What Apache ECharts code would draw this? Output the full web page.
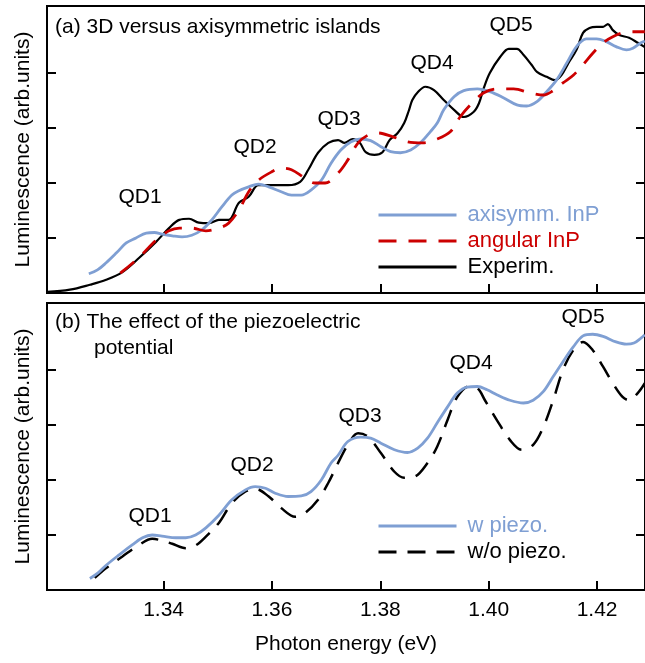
<!DOCTYPE html>
<html>
<head>
<meta charset="utf-8">
<script src="https://cdn.jsdelivr.net/npm/echarts@6/dist/echarts.min.js"></script>
<style>
  html, body { margin: 0; padding: 0; background: #fff; }
  #chart { width: 645px; height: 663px; }
</style>
</head>
<body>
<div id="chart"></div>
<script>
// Photon energy ticks (eV) shared by both panels
const energyTicks = [1.34, 1.36, 1.38, 1.40, 1.42];
const intensityTicks = [1, 2, 3, 4];

// Panel (a): measured spectrum, [energy eV, luminescence]
const experim = [
  [1.3185,0.02],[1.3227,0.06],[1.3264,0.15],[1.3294,0.24],[1.3324,0.38],[1.3355,0.64],
  [1.3386,0.93],[1.3410,1.18],[1.3429,1.33],[1.3447,1.35],[1.3465,1.28],[1.3484,1.27],
  [1.3502,1.33],[1.3520,1.33],[1.3539,1.64],[1.3557,1.75],[1.3575,1.96],[1.3599,1.96],
  [1.3630,1.96],[1.3652,2.02],[1.3667,2.24],[1.3685,2.55],[1.3704,2.73],[1.3722,2.78],
  [1.3734,2.73],[1.3749,2.80],[1.3762,2.73],[1.3773,2.56],[1.3789,2.51],[1.3804,2.56],
  [1.3817,2.78],[1.3832,2.91],[1.3844,3.09],[1.3853,3.33],[1.3859,3.51],[1.3869,3.65],
  [1.3883,3.75],[1.3899,3.69],[1.3917,3.51],[1.3936,3.33],[1.3954,3.20],[1.3972,3.29],
  [1.3982,3.45],[1.3991,3.73],[1.4002,4.00],[1.4021,4.29],[1.4037,4.44],[1.4052,4.44],
  [1.4064,4.33],[1.4079,4.15],[1.4089,4.02],[1.4107,3.93],[1.4122,3.87],[1.4134,3.96],
  [1.4147,4.18],[1.4162,4.42],[1.4174,4.73],[1.4186,4.82],[1.4199,4.84],[1.4211,4.84],
  [1.4220,4.89],[1.4229,4.78],[1.4241,4.69],[1.4259,4.64],[1.4275,4.55],[1.4288,4.47]
];

// Panel (a): axisymmetric InP island model
const axisymm = [
  [1.3262,0.35],[1.3278,0.42],[1.3294,0.55],[1.3313,0.73],[1.3331,0.91],[1.3349,1.00],
  [1.3368,1.09],[1.3383,1.10],[1.3397,1.07],[1.3416,1.04],[1.3434,1.02],[1.3452,1.05],
  [1.3471,1.15],[1.3489,1.33],[1.3507,1.56],[1.3526,1.78],[1.3539,1.86],[1.3557,1.93],
  [1.3575,1.98],[1.3594,1.93],[1.3617,1.84],[1.3636,1.78],[1.3654,1.78],[1.3672,1.87],
  [1.3691,2.05],[1.3709,2.36],[1.3727,2.60],[1.3746,2.75],[1.3764,2.80],[1.3782,2.77],
  [1.3801,2.66],[1.3819,2.57],[1.3837,2.55],[1.3856,2.60],[1.3874,2.73],[1.3892,2.93],
  [1.3905,3.09],[1.3917,3.33],[1.3936,3.57],[1.3954,3.68],[1.3979,3.71],[1.4002,3.66],
  [1.4027,3.55],[1.4052,3.42],[1.4070,3.40],[1.4089,3.48],[1.4107,3.66],[1.4125,3.87],
  [1.4144,4.18],[1.4162,4.48],[1.4180,4.62],[1.4199,4.62],[1.4217,4.57],[1.4235,4.48],
  [1.4254,4.42],[1.4266,4.45],[1.4281,4.55],[1.4288,4.58]
];

// Panel (a): angular (3D) InP island model
const angular = [
  [1.3320,0.36],[1.3355,0.65],[1.3386,0.96],[1.3410,1.13],[1.3429,1.18],[1.3452,1.18],
  [1.3478,1.13],[1.3502,1.18],[1.3520,1.27],[1.3539,1.51],[1.3557,1.84],[1.3575,2.05],
  [1.3599,2.20],[1.3617,2.27],[1.3636,2.24],[1.3661,2.09],[1.3679,2.00],[1.3698,2.00],
  [1.3722,2.18],[1.3740,2.42],[1.3759,2.73],[1.3777,2.87],[1.3795,2.91],[1.3823,2.84],
  [1.3850,2.75],[1.3878,2.73],[1.3905,2.80],[1.3929,2.93],[1.3947,3.20],[1.3966,3.42],
  [1.3991,3.64],[1.4015,3.71],[1.4046,3.71],[1.4076,3.64],[1.4101,3.60],[1.4119,3.68],
  [1.4137,3.82],[1.4156,3.96],[1.4174,4.15],[1.4192,4.36],[1.4211,4.55],[1.4229,4.66],
  [1.4247,4.73],[1.4266,4.75],[1.4288,4.75]
];

// Panel (b): with piezoelectric potential
const withPiezo = [
  [1.3264,0.21],[1.3279,0.31],[1.3294,0.45],[1.3318,0.64],[1.3342,0.82],[1.3361,0.95],
  [1.3379,1.00],[1.3397,0.98],[1.3423,0.95],[1.3441,0.95],[1.3459,1.00],[1.3478,1.13],
  [1.3502,1.36],[1.3526,1.64],[1.3551,1.82],[1.3569,1.88],[1.3588,1.85],[1.3606,1.76],
  [1.3630,1.70],[1.3654,1.71],[1.3672,1.79],[1.3691,2.00],[1.3709,2.31],[1.3722,2.45],
  [1.3740,2.70],[1.3764,2.78],[1.3782,2.76],[1.3801,2.67],[1.3826,2.55],[1.3850,2.50],
  [1.3869,2.58],[1.3887,2.76],[1.3905,3.04],[1.3924,3.33],[1.3942,3.58],[1.3960,3.69],
  [1.3979,3.70],[1.3997,3.64],[1.4015,3.55],[1.4039,3.45],[1.4064,3.40],[1.4082,3.45],
  [1.4101,3.61],[1.4119,3.88],[1.4137,4.15],[1.4156,4.42],[1.4174,4.62],[1.4192,4.65],
  [1.4211,4.61],[1.4235,4.51],[1.4254,4.47],[1.4268,4.49],[1.4281,4.58],[1.4288,4.64]
];

// Panel (b): without piezoelectric potential
const withoutPiezo = [
  [1.3273,0.22],[1.3294,0.40],[1.3324,0.61],[1.3355,0.82],[1.3379,0.93],[1.3397,0.90],
  [1.3416,0.84],[1.3441,0.76],[1.3459,0.81],[1.3478,0.97],[1.3502,1.22],[1.3526,1.58],
  [1.3551,1.79],[1.3569,1.84],[1.3594,1.70],[1.3617,1.49],[1.3643,1.33],[1.3661,1.40],
  [1.3685,1.64],[1.3704,1.95],[1.3722,2.31],[1.3740,2.64],[1.3759,2.85],[1.3777,2.79],
  [1.3801,2.49],[1.3826,2.15],[1.3844,2.04],[1.3863,2.06],[1.3887,2.31],[1.3905,2.61],
  [1.3924,3.09],[1.3942,3.51],[1.3963,3.70],[1.3979,3.67],[1.3993,3.45],[1.4015,3.09],
  [1.4039,2.73],[1.4061,2.55],[1.4082,2.64],[1.4101,2.97],[1.4119,3.45],[1.4137,4.00],
  [1.4156,4.36],[1.4174,4.51],[1.4192,4.36],[1.4211,4.06],[1.4229,3.76],[1.4247,3.51],
  [1.4259,3.45],[1.4275,3.58],[1.4288,3.76]
];

// Peak annotations per panel
const peakNames = ['QD1', 'QD2', 'QD3', 'QD4', 'QD5'];

const FONT = '"Liberation Sans", Arial, Helvetica, sans-serif';
const BLUE = '#7f9fd3';
const RED = '#cc0000';
const BLACK = '#000000';

const xMin = 1.31848, xMax = 1.42884;
const yMax = 5.218;

const chart = echarts.init(document.getElementById('chart'), null, { renderer: 'canvas' });

function xAxisFor(grid, withLabels) {
  return {
    gridIndex: grid, type: 'value', min: xMin, max: xMax,
    axisLine: { show: false },
    splitLine: { show: false },
    axisTick: { inside: true, length: 9, lineStyle: { color: BLACK, width: 2 }, customValues: energyTicks },
    axisLabel: withLabels ? {
      customValues: energyTicks, formatter: v => v.toFixed(2),
      fontSize: 21, fontFamily: FONT, color: BLACK, margin: 10
    } : { show: false },
    name: withLabels ? 'Photon energy (eV)' : '',
    nameLocation: 'middle', nameGap: 44,
    nameTextStyle: { fontSize: 21, fontFamily: FONT, color: BLACK }
  };
}

function yAxisFor(grid, side) {
  return {
    gridIndex: grid, type: 'value', min: 0, max: yMax, position: side,
    axisLine: { show: false },
    splitLine: { show: false },
    axisTick: { inside: true, length: 9, lineStyle: { color: BLACK, width: 2 }, customValues: intensityTicks },
    axisLabel: { show: false },
    name: side === 'left' ? 'Luminescence (arb.units)' : '',
    nameLocation: 'middle', nameRotate: 90, nameGap: 13,
    nameTextStyle: { fontSize: 21, fontFamily: FONT, color: BLACK }
  };
}

function textEl(text, x, y, align, color) {
  return {
    type: 'text', z: 10,
    style: { text: text, x: x, y: y, font: '21px ' + FONT, fill: color || BLACK,
             textAlign: align || 'center', textVerticalAlign: 'middle' }
  };
}

const labelPosA = [[140,197],[255,147],[339,119],[432,63],[511,25]];
const labelPosB = [[150,516],[252,465],[360,416],[471,363],[583,317]];

const graphics = [
  textEl('(a) 3D versus axisymmetric islands', 55, 27, 'left'),
  textEl('(b) The effect of the piezoelectric', 55, 322, 'left'),
  textEl('potential', 94, 348, 'left')
];
peakNames.forEach((n, i) => {
  graphics.push(textEl(n, labelPosA[i][0], labelPosA[i][1]));
  graphics.push(textEl(n, labelPosB[i][0], labelPosB[i][1]));
});

function lineSeries(name, data, xi, yi, color, width, dash) {
  return {
    name: name, type: 'line', data: data, xAxisIndex: xi, yAxisIndex: yi,
    symbol: 'none', smooth: 0.35, animation: false,
    lineStyle: { color: color, width: width, type: dash || 'solid' },
    itemStyle: { color: color }
  };
}

const legendText = { fontSize: 22, lineHeight: 22, fontFamily: FONT, padding: [0, 0, 0, 6] };
const legendBase = {
  orient: 'vertical', itemWidth: 78, itemHeight: 14, itemGap: 4, padding: 0,
  selectedMode: false, textStyle: legendText,
  itemStyle: { opacity: 0 },
  lineStyle: { width: 3 }
};

chart.setOption({
  animation: false,
  backgroundColor: '#ffffff',
  grid: [
    { left: 47, top: 6, width: 602, height: 287, show: true, borderColor: BLACK, borderWidth: 2 },
    { left: 47, top: 303, width: 602, height: 287, show: true, borderColor: BLACK, borderWidth: 2 }
  ],
  xAxis: [xAxisFor(0, false), xAxisFor(1, true)],
  yAxis: [yAxisFor(0, 'left'), yAxisFor(0, 'right'), yAxisFor(1, 'left'), yAxisFor(1, 'right')],
  legend: [
    Object.assign({}, legendBase, {
      left: 377, top: 204,
      data: [
        { name: 'axisymm. InP', textStyle: { color: BLUE } },
        { name: 'angular InP', textStyle: { color: RED } },
        { name: 'Experim.', textStyle: { color: BLACK } }
      ]
    }),
    Object.assign({}, legendBase, {
      left: 377, top: 515,
      data: [
        { name: 'w piezo.', textStyle: { color: BLUE } },
        { name: 'w/o piezo.', textStyle: { color: BLACK } }
      ]
    })
  ],
  graphic: graphics,
  series: [
    lineSeries('Experim.', experim, 0, 0, BLACK, 2.2),
    lineSeries('axisymm. InP', axisymm, 0, 0, BLUE, 2.8),
    lineSeries('angular InP', angular, 0, 0, RED, 2.8, [18, 12]),
    lineSeries('w/o piezo.', withoutPiezo, 1, 2, BLACK, 2.5, [18, 11]),
    lineSeries('w piezo.', withPiezo, 1, 2, BLUE, 2.8)
  ]
});
</script>
</body>
</html>
